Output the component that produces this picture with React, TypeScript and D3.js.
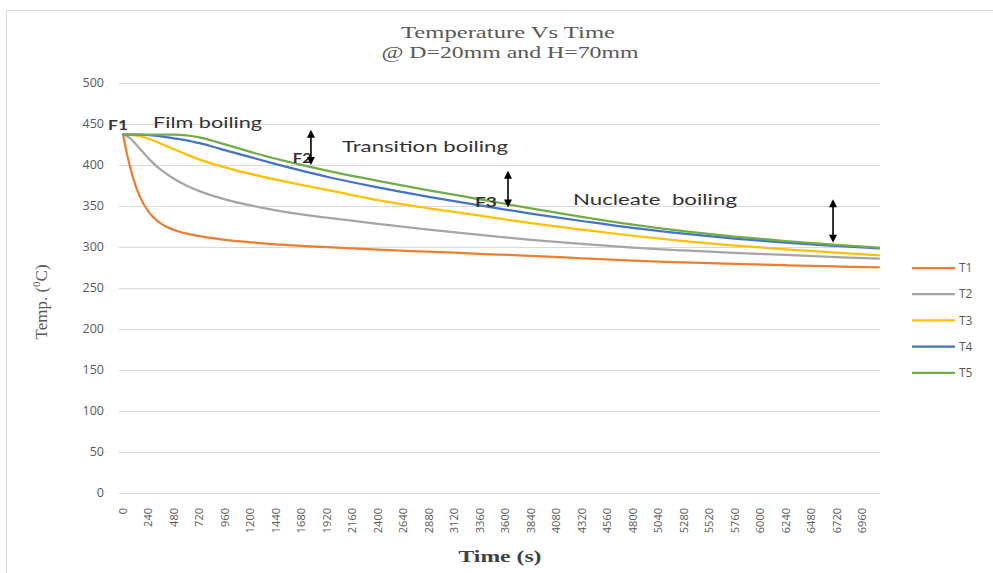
import React from 'react';
import * as d3 from 'd3';

// ---- data ----
const times = [0, 40, 80, 120, 160, 240, 320, 400, 480, 600, 720, 840, 960, 1200, 1440, 1680, 1920, 2400, 2880, 3360, 3840, 4320, 4800, 5280, 5760, 6240, 6720, 7120];
const t1 = [437, 412, 391, 374, 361, 343, 332, 325, 320.5, 316, 313, 310.5, 308.5, 305.5, 303, 301, 299.5, 296.5, 294, 291.5, 289, 286, 283, 281, 279, 277.5, 276, 275];
const t2 = [437, 435, 431, 425.5, 419.5, 408, 398, 390, 383, 374.5, 368, 362.5, 358, 350.5, 344.5, 339.5, 335.5, 328, 321, 314.5, 308.5, 303.5, 299, 295.5, 292.5, 290, 287.5, 285.5];
const t3 = [437, 437, 436.5, 436, 435, 432, 428, 423.5, 419, 412.5, 406.5, 401.5, 397, 389, 382, 375.5, 369.5, 357, 347, 338, 329, 321, 313.5, 307, 301.5, 297, 293, 289.5];
const t4 = [437, 437, 437, 437, 437, 436.5, 435.5, 434, 432.5, 430, 426.5, 422.5, 418, 409.5, 401, 393, 385.5, 372.5, 361, 350.5, 340.5, 331.5, 323, 316, 310, 305, 301, 298];
const t5 = [437, 437, 437, 437, 437, 437, 437, 437, 437, 436, 433.5, 429.5, 425, 416, 407.5, 400, 393, 380.5, 369, 358, 347, 336.5, 327, 319, 312.5, 307, 302.5, 299];
const seriesNames = ['T1', 'T2', 'T3', 'T4', 'T5'];
const seriesValues = [t1, t2, t3, t4, t5];
const seriesColors = ['#ED7D31', '#A5A5A5', '#FFC000', '#4472C4', '#70AD47'];

const yTicks = [0, 50, 100, 150, 200, 250, 300, 350, 400, 450, 500];
const xTicks = [0, 240, 480, 720, 960, 1200, 1440, 1680, 1920, 2160, 2400, 2640, 2880, 3120, 3360, 3600, 3840, 4080, 4320, 4560, 4800, 5040, 5280, 5520, 5760, 6000, 6240, 6480, 6720, 6960];

const arrowTimes = [1770, 3626, 6687];
const arrowTops = [443, 393, 358];
const arrowBottoms = [400, 348, 305];

const noteTexts = ['F1', 'Film boiling', 'F2', 'Transition boiling', 'F3', 'Nucleate  boiling'];
const noteTimes = [-141, 283, 1600, 2063, 3315, 4238];
const noteValues = [443, 445.6, 402.8, 416, 348, 351.5];
const noteBold = [true, false, true, false, true, false];
const noteWidths = [20, 109, 19, 166, 22, 164];

const titleLines = ['Temperature Vs Time', '@ D=20mm and H=70mm'];

export default function App() {
  const W = 993, H = 573;
  const x = d3.scaleLinear().domain([0, 7120]).range([123, 879]);
  const y = d3.scaleLinear().domain([0, 500]).range([492.5, 83]);
  const line = d3.line<number>()
    .x((_, i) => x(times[i]))
    .y((d) => y(d))
    .curve(d3.curveMonotoneX);

  const gridX0 = 119, gridX1 = 880;
  const sans = 'Open Sans, Lato, sans-serif';
  const serif = 'Liberation Serif, DejaVu Serif, serif';

  return (
    <svg width={W} height={H} style={{ position: 'absolute', left: 0, top: 0, background: '#fff' }}>
      <rect x={6.5} y={10.5} width={1000} height={600} fill="#fff" stroke="#d9d9d9" strokeWidth={1} />
      {/* title */}
      <text x={508} y={38} textAnchor="middle" fontFamily={serif} fontSize={17} fill="#595959"
        textLength={214} lengthAdjust="spacingAndGlyphs">{titleLines[0]}</text>
      <text x={510} y={58} textAnchor="middle" fontFamily={serif} fontSize={17} fill="#595959"
        textLength={257} lengthAdjust="spacingAndGlyphs">{titleLines[1]}</text>

      {/* gridlines */}
      {yTicks.map((t) => (
        <line key={'g' + t} x1={gridX0} x2={gridX1} y1={Math.round(y(t)) + 0.5} y2={Math.round(y(t)) + 0.5}
          stroke="#d9d9d9" strokeWidth={1} />
      ))}
      {/* y tick labels */}
      {yTicks.map((t) => (
        <text key={'yl' + t} x={104} y={y(t)} dy="0.35em" textAnchor="end" fontFamily={sans} fontSize={12.5} fill="#595959">{t}</text>
      ))}
      {/* x tick labels */}
      {xTicks.map((t) => (
        <text key={'xl' + t} transform={`translate(${x(t) + 4},508) rotate(-90)`} textAnchor="end"
          fontFamily={sans} fontSize={11} fill="#595959">{t}</text>
      ))}

      {/* axis titles */}
      <text x={500} y={562} textAnchor="middle" fontFamily={serif} fontWeight="bold" fontSize={17} fill="#404040"
        textLength={83} lengthAdjust="spacingAndGlyphs">Time (s)</text>
      <text transform="translate(47,302) rotate(-90)" textAnchor="middle" fontFamily={serif} fontSize={17} fill="#595959">
        Temp. (<tspan fontSize={11} dy={-7}>0</tspan><tspan dy={7}>C)</tspan>
      </text>

      {/* series */}
      {seriesValues.map((vals, i) => (
        <path key={seriesNames[i]} d={line(vals) || ''} fill="none" stroke={seriesColors[i]} strokeWidth={2.25}
          strokeLinejoin="round" strokeLinecap="round" />
      ))}

      {/* annotations */}
      {noteTexts.map((s, i) => (
        <text key={'n' + i} x={x(noteTimes[i])} y={y(noteValues[i])} fontFamily="Lato, Open Sans, sans-serif"
          fontWeight={noteBold[i] ? 'bold' : 'normal'} fontSize={noteBold[i] ? 14 : 15} fill="#333"
          textLength={noteWidths[i]} lengthAdjust="spacingAndGlyphs" style={{ whiteSpace: 'pre' }}>{s}</text>
      ))}
      {arrowTimes.map((t, i) => {
        const ax = x(t), yt = y(arrowTops[i]), yb = y(arrowBottoms[i]);
        return (
          <g key={'a' + i}>
            <line x1={ax} x2={ax} y1={yt + 4} y2={yb - 4} stroke="#000" strokeWidth={1.6} />
            <path d={`M${ax},${yt} L${ax - 4},${yt + 8} L${ax + 4},${yt + 8} Z`} fill="#000" />
            <path d={`M${ax},${yb} L${ax - 4},${yb - 8} L${ax + 4},${yb - 8} Z`} fill="#000" />
          </g>
        );
      })}

      {/* legend */}
      {seriesNames.map((n, i) => {
        const ly = 268 + i * 26.2;
        return (
          <g key={'lg' + n}>
            <line x1={912} x2={955} y1={ly} y2={ly} stroke={seriesColors[i]} strokeWidth={2.25} />
            <text x={959} y={ly} dy="0.35em" fontFamily={sans} fontSize={12} fill="#595959">{n}</text>
          </g>
        );
      })}
    </svg>
  );
}
